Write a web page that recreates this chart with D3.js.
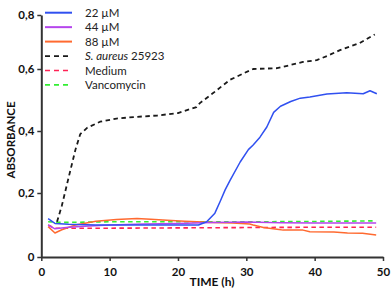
<!DOCTYPE html>
<html>
<head>
<meta charset="utf-8">
<script src="https://cdn.jsdelivr.net/npm/d3@7"></script>
<style>
  html, body { margin: 0; padding: 0; background: #fff; }
  svg { display: block; font-family: Lato, "Open Sans", sans-serif; }
</style>
</head>
<body>
<svg width="391" height="297"></svg>
<script>
// readings: [time (h), absorbance]
const c22 = [[1,0.12],[2,0.105],[4,0.102],[8,0.10],[14,0.10],[20,0.10],[23,0.10],[24.2,0.11],[25.4,0.137],[26.2,0.175],[26.9,0.21],[27.6,0.24],[29.1,0.30],[30.3,0.34],[31,0.355],[32,0.38],[33,0.413],[34,0.46],[35,0.48],[36.5,0.495],[37.9,0.506],[39.3,0.51],[41.8,0.519],[44.7,0.523],[47.1,0.52],[48.1,0.53],[49.1,0.52]];
const c44 = [[1,0.10],[2,0.088],[4,0.093],[7,0.097],[10,0.10],[15,0.103],[20,0.105],[25,0.108],[30,0.109],[35,0.107],[40,0.106],[45,0.106],[49,0.106]];
const c88 = [[1,0.095],[2,0.075],[3,0.085],[5,0.10],[8,0.112],[11,0.117],[14,0.12],[16,0.118],[18.4,0.115],[21,0.112],[22.8,0.11],[25,0.108],[28,0.106],[30.5,0.103],[31,0.10],[32.5,0.092],[34.5,0.087],[35.4,0.084],[38.3,0.084],[39.3,0.079],[42.8,0.078],[44.8,0.075],[47,0.074],[49,0.069]];
const saureus = [[2.3,0.11],[3,0.16],[4,0.25],[5,0.34],[5.7,0.39],[6.7,0.41],[8.6,0.43],[11,0.44],[13.5,0.445],[17,0.45],[20,0.458],[22.7,0.477],[23.2,0.49],[25,0.52],[27.6,0.565],[29.5,0.585],[31,0.60],[34.5,0.603],[36,0.612],[38.3,0.626],[40.3,0.633],[42,0.65],[43.7,0.67],[46.6,0.696],[48.8,0.728]];
const medium = [[1,0.10],[2,0.09],[5,0.09],[10,0.09],[20,0.091],[30,0.092],[40,0.093],[49,0.093]];
const vanco = [[1,0.11],[3,0.108],[10,0.11],[20,0.11],[30,0.11],[40,0.111],[49,0.113]];

const seriesNames = ['22 µM', '44 µM', '88 µM', 'S. aureus 25923', 'Medium', 'Vancomycin'];
const seriesData = [c22, c44, c88, saureus, medium, vanco];
const seriesColors = ['#3050f0', '#b545ec', '#ff6a30', '#1a1a1a', '#ff2255', '#33ee33'];
const seriesDashed = [false, false, false, true, true, true];

const xTicks = [0, 10, 20, 30, 40, 50];
const yTicks = [0, 0.2, 0.4, 0.6, 0.8];

var svg = d3.select('svg');

var x = d3.scaleLinear().domain([0, 50]).range([41.3, 383]);
// the printed y axis is slightly uneven, follow the tick marks
var y = d3.scaleLinear().domain(yTicks).range([257, 193, 131, 69, 15]);

var line = d3.line()
    .x(d => x(d[0]))
    .y(d => y(d[1]));

var plot = svg.append('g');

// draw dashed ones first, solid ones on top
var order = [5, 4, 3, 2, 1, 0];
order.forEach(i => {
    plot.append('path')
        .datum(seriesData[i])
        .attr('d', line)
        .attr('fill', 'none')
        .attr('stroke', seriesColors[i])
        .attr('stroke-width', i === 3 ? 1.8 : (seriesDashed[i] ? 1.6 : 1.5))
        .attr('stroke-dasharray', seriesDashed[i] ? '4.5,3.5' : null)
        .attr('stroke-linejoin', 'round');
});

var fmt = v => v === 0 ? '0' : d3.format('.1f')(v).replace('.', ',');

var xAxis = svg.append('g')
    .attr('transform', `translate(0,${y(0)})`)
    .call(d3.axisBottom(x).tickValues(xTicks).tickSize(4).tickSizeOuter(0).tickFormat(d => d));

var yAxis = svg.append('g')
    .attr('transform', `translate(${x(0)},0)`)
    .call(d3.axisLeft(y).tickValues(yTicks).tickSize(4).tickSizeOuter(0).tickFormat(fmt));

[xAxis, yAxis].forEach(a => {
    a.select('.domain').attr('stroke', '#333').attr('stroke-width', 2);
    a.selectAll('.tick line').attr('stroke', '#333').attr('stroke-width', 1.5);
    a.selectAll('.tick text')
        .attr('fill', '#111')
        .attr('font-size', 11.5)
        .attr('font-weight', 'bold')
        .attr('font-family', 'Lato, sans-serif');
});
xAxis.selectAll('.tick text').attr('dy', '1.0em');
yAxis.selectAll('.tick text').attr('x', -7);

svg.append('text')
    .attr('x', 212)
    .attr('y', 286)
    .attr('text-anchor', 'middle')
    .attr('font-size', 12)
    .attr('font-weight', 'bold')
    .attr('fill', '#111')
    .text('TIME (h)');

svg.append('text')
    .attr('transform', 'translate(15,140) rotate(-90)')
    .attr('text-anchor', 'middle')
    .attr('font-size', 11.5)
    .attr('font-weight', 'bold')
    .attr('fill', '#111')
    .text('ABSORBANCE');

// legend
var legend = svg.append('g');
seriesNames.forEach((name, i) => {
    var ly = 12.7 + i * 14.45;
    legend.append('line')
        .attr('x1', 45).attr('x2', 72)
        .attr('y1', ly).attr('y2', ly)
        .attr('stroke', seriesColors[i])
        .attr('stroke-width', seriesDashed[i] ? 1.7 : 2)
        .attr('stroke-dasharray', seriesDashed[i] ? '5,4' : null);
    var t = legend.append('text')
        .attr('x', 85)
        .attr('y', ly + 4)
        .attr('font-size', 11.5)
        .attr('fill', '#222');
    if (name.startsWith('S. aureus')) {
        t.append('tspan').attr('font-style', 'italic').text('S. aureus');
        t.append('tspan').text(' 25923');
    } else {
        t.text(name);
    }
});
</script>
</body>
</html>
